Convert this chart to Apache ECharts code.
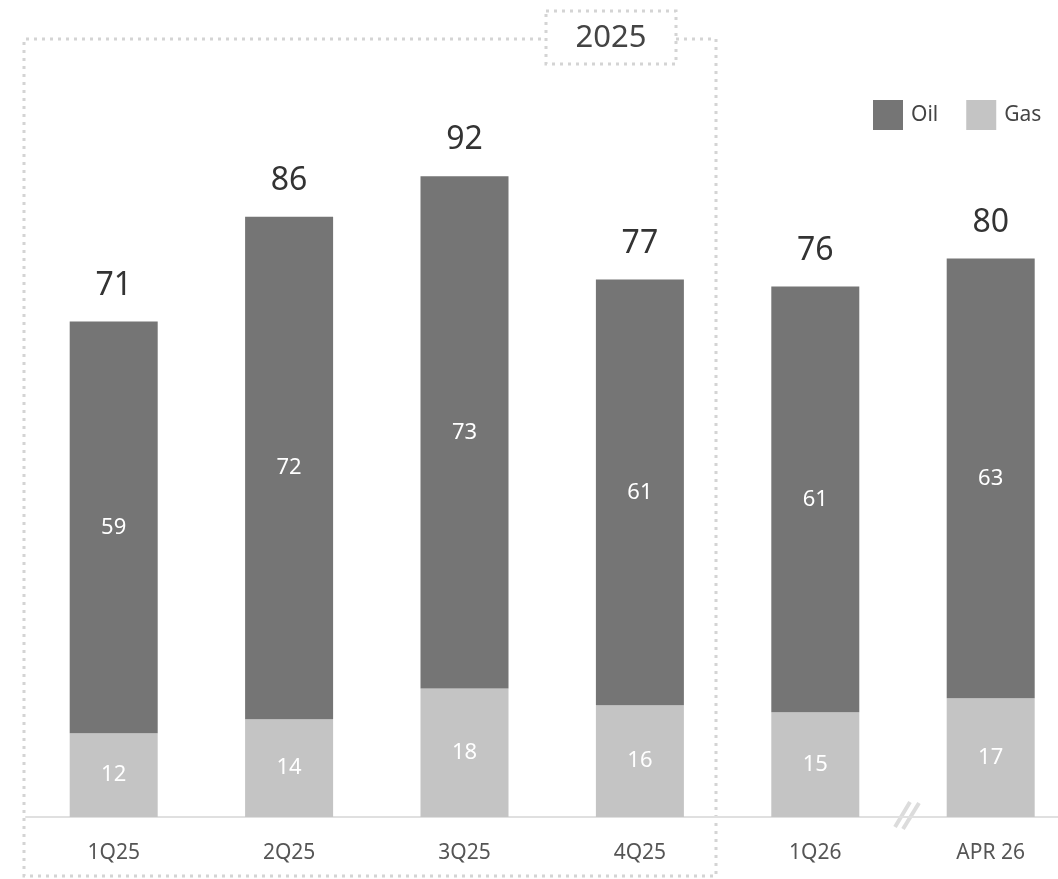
<!DOCTYPE html>
<html>
<head>
<meta charset="utf-8">
<script src="https://cdn.jsdelivr.net/npm/echarts@6/dist/echarts.min.js"></script>
<style>
  html, body { margin: 0; padding: 0; background: #ffffff; overflow: hidden; }
  #chart { width: 1080px; height: 879px; }
</style>
</head>
<body>
<div id="chart"></div>
<script>
// Quarterly production split by product
const categories = ['1Q25', '2Q25', '3Q25', '4Q25', '1Q26', 'APR 26'];
const gasValues = [12, 14, 18.4, 16, 15, 17];
const oilValues = [59, 72, 73.4, 61, 61, 63];
const totals = oilValues.map((v, i) => v + gasValues[i]);

const OIL_COLOR = '#757575';
const GAS_COLOR = '#c4c4c4';
const DOT_COLOR = '#d4d4d4';
const FONT = '"Noto Sans", "DejaVu Sans", sans-serif';

const chart = echarts.init(document.getElementById('chart'), null, { renderer: 'canvas' });

const dotted = { stroke: DOT_COLOR, lineWidth: 3, lineDash: [3, 5], fill: null };

chart.setOption({
  animation: false,
  backgroundColor: '#ffffff',
  textStyle: { fontFamily: FONT },
  grid: { left: 26, top: 119, width: 1052.4, height: 698 },
  legend: {
    data: ['Oil', 'Gas'],
    left: 873,
    top: 100,
    padding: 0,
    itemWidth: 30,
    itemHeight: 30,
    itemGap: 28,
    icon: 'rect',
    textStyle: { fontSize: 21, color: '#444', fontFamily: FONT, padding: [9, 0, 0, 3] }
  },
  xAxis: {
    type: 'category',
    data: categories,
    axisLine: { lineStyle: { color: '#e0e0e0', width: 2 } },
    axisTick: { show: false },
    axisLabel: { color: '#555', fontSize: 21, margin: 26, fontFamily: FONT }
  },
  yAxis: {
    type: 'value',
    min: 0,
    max: 100,
    show: false,
    splitLine: { show: false }
  },
  series: [
    {
      name: 'Gas',
      type: 'bar',
      stack: 'total',
      barWidth: 88,
      data: gasValues,
      itemStyle: { color: GAS_COLOR },
      label: {
        show: true,
        position: 'inside',
        color: '#ffffff',
        fontSize: 22,
        fontFamily: FONT,
        formatter: p => Math.round(p.value)
      }
    },
    {
      name: 'Oil',
      type: 'bar',
      stack: 'total',
      barWidth: 88,
      data: oilValues,
      itemStyle: { color: OIL_COLOR },
      label: {
        show: true,
        position: 'inside',
        color: '#ffffff',
        fontSize: 22,
        fontFamily: FONT,
        formatter: p => Math.round(p.value)
      }
    },
    {
      // Totals drawn above each stacked bar
      name: 'Total',
      type: 'bar',
      stack: 'total',
      barWidth: 88,
      data: totals.map(() => 0),
      itemStyle: { color: 'transparent' },
      label: {
        show: true,
        position: 'top',
        distance: 20,
        color: '#333',
        fontSize: 32,
        fontFamily: FONT,
        formatter: p => Math.round(totals[p.dataIndex])
      },
      tooltip: { show: false }
    }
  ],
  graphic: [
    // dotted frame grouping the 2025 quarters
    {
      type: 'polyline',
      silent: true,
      shape: { points: [[676, 39], [716, 39], [716, 876], [24, 876], [24, 39], [546, 39]] },
      style: dotted
    },
    {
      type: 'rect',
      silent: true,
      shape: { x: 546, y: 11, width: 130, height: 53 },
      style: Object.assign({}, dotted, { fill: '#ffffff' })
    },
    {
      type: 'text',
      silent: true,
      x: 611,
      y: 38,
      style: {
        text: '2025',
        fontSize: 31,
        fontFamily: FONT,
        fill: '#444',
        align: 'center',
        verticalAlign: 'middle'
      }
    },
    // axis break mark before the latest month
    {
      type: 'line',
      silent: true,
      shape: { x1: 895, y1: 827, x2: 910, y2: 802 },
      style: { stroke: '#dcdcdc', lineWidth: 4 }
    },
    {
      type: 'line',
      silent: true,
      shape: { x1: 903, y1: 829, x2: 919, y2: 803 },
      style: { stroke: '#dcdcdc', lineWidth: 4 }
    }
  ]
});
</script>
</body>
</html>
